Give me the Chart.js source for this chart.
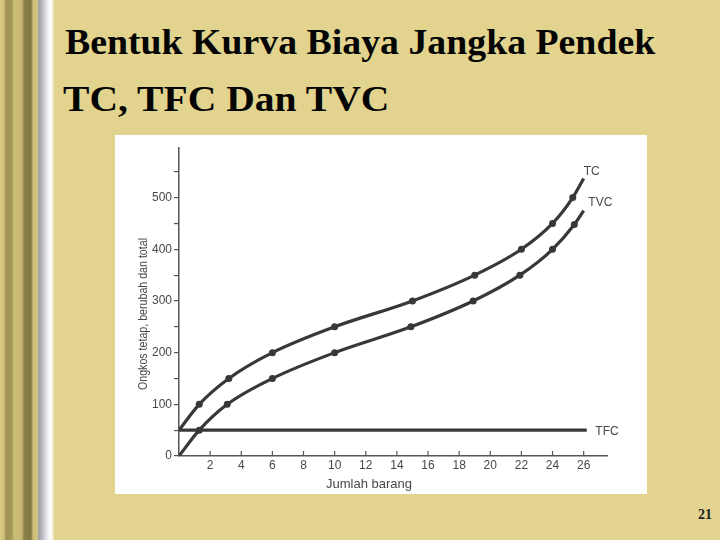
<!DOCTYPE html>
<html>
<head>
<meta charset="utf-8">
<script src="https://cdn.jsdelivr.net/npm/chart.js@4.4.1/dist/chart.umd.min.js"></script>
<style>
  body { margin: 0; width: 720px; height: 540px; background: #e2d48e; position: relative; overflow: hidden; }
  #border {
    position: absolute; left: 0; top: 0; width: 54px; height: 540px;
    background: linear-gradient(to right, #d9cb82 0px, #cfc078 4px, #9d9055 6px, #a89b5c 12px, #cdbf78 14px,
      #c4b570 22px, #8c8249 24px, #7f7643 31px, #cbbd76 33px, #d4c67c 37px, #9fa0a6 39px, #b9bac0 42px,
      #dfe0e5 46px, #ffffff 50px, #f4f0de 53px, #e2d48e 54px);
  }
  .title { position: absolute; margin: 0; font-family: "Liberation Serif", "Times New Roman", serif;
    font-weight: bold; font-size: 36px; color: #050505; white-space: nowrap; line-height: 1;
    transform-origin: left top; }
  #t1 { left: 65px; top: 24px; transform: scaleX(1.05); }
  #t2 { left: 63px; top: 81px; transform: scaleX(1.10); }
  #panel { position: absolute; left: 115px; top: 135px; width: 532px; height: 359px; background: #fff; }
  #page { position: absolute; left: 698px; top: 507px; font-family: "Liberation Serif", serif; font-weight: bold;
    font-size: 14px; color: #222; }
</style>
</head>
<body>
<div id="border"></div>
<div class="title" id="t1">Bentuk Kurva Biaya Jangka Pendek</div>
<div class="title" id="t2">TC, TFC Dan TVC</div>
<div id="panel"><canvas id="chart" width="532" height="359"></canvas></div>
<div id="page">21</div>
<script>
// data
const tcQty  = [0, 1.3, 3.2, 6, 10, 15, 19, 22, 24, 25.3, 26];
const tcCost = [50, 100, 150, 200, 250, 300, 350, 400, 450, 500, 537];

const tvcQty  = [0, 1.3, 3.1, 6, 10, 14.9, 18.9, 21.9, 24, 25.4, 26];
const tvcCost = [0, 50, 100, 150, 200, 250, 300, 350, 400, 448, 475];

const tfcQty  = [0, 26.2];
const tfcCost = [50, 50];

const xTicks = [2, 4, 6, 8, 10, 12, 14, 16, 18, 20, 22, 24, 26];
const yTicks = [0, 50, 100, 150, 200, 250, 300, 350, 400, 450, 500, 550];
const yLabels = [0, 100, 200, 300, 400, 500];

const ink = '#3a3836';
const textCol = '#474747';
const sans = '"Liberation Sans", Arial, sans-serif';

function pts(xs, ys) {
  return xs.map((x, i) => ({ x: x, y: ys[i] }));
}
function dots(n) {
  // tanpa titik di ujung kurva
  return Array.from({ length: n }, (_, i) => (i === 0 || i === n - 1) ? 0 : 3.5);
}

const labelsPlugin = {
  id: 'labels',
  afterDraw(chart) {
    const ctx = chart.ctx;
    const x = chart.scales.x, y = chart.scales.y;
    ctx.save();
    // tick sumbu x menghadap ke dalam
    ctx.strokeStyle = '#555';
    ctx.lineWidth = 1.2;
    xTicks.forEach(v => {
      const px = x.getPixelForValue(v);
      ctx.beginPath();
      ctx.moveTo(px, y.bottom);
      ctx.lineTo(px, y.bottom - 5);
      ctx.stroke();
    });
    // nama kurva
    ctx.fillStyle = textCol;
    ctx.font = '12px ' + sans;
    ctx.textBaseline = 'middle';
    ctx.textAlign = 'left';
    ctx.fillText('TC', x.getPixelForValue(26.0), y.getPixelForValue(550));
    ctx.fillText('TVC', x.getPixelForValue(26.3), y.getPixelForValue(490));
    ctx.fillText('TFC', x.getPixelForValue(26.75), y.getPixelForValue(48));
    // judul sumbu
    ctx.font = '13px ' + sans;
    ctx.textAlign = 'center';
    ctx.fillText('Jumlah barang', 254, 349);
    ctx.translate(28, 179);
    ctx.rotate(-Math.PI / 2);
    const yt = 'Ongkos tetap, berubah dan total';
    const w = ctx.measureText(yt).width;
    ctx.scale(152 / w, 1);
    ctx.fillText(yt, 0, 0);
    ctx.restore();
  }
};

new Chart(document.getElementById('chart'), {
  type: 'line',
  data: {
    datasets: [
      { label: 'TC', data: pts(tcQty, tcCost), borderColor: ink, backgroundColor: ink, borderWidth: 3.2,
        pointRadius: dots(tcQty.length), pointBackgroundColor: ink, pointBorderWidth: 0, cubicInterpolationMode: 'monotone' },
      { label: 'TVC', data: pts(tvcQty, tvcCost), borderColor: ink, backgroundColor: ink, borderWidth: 3.2,
        pointRadius: dots(tvcQty.length), pointBackgroundColor: ink, pointBorderWidth: 0, cubicInterpolationMode: 'monotone' },
      { label: 'TFC', data: pts(tfcQty, tfcCost), borderColor: ink, borderWidth: 3.2, pointRadius: 0 }
    ]
  },
  options: {
    responsive: false,
    animation: false,
    layout: { padding: { top: 13, right: 40, left: 0, bottom: 0 } },
    plugins: { legend: { display: false }, tooltip: { enabled: false } },
    scales: {
      x: {
        type: 'linear', min: 0, max: 27.5,
        afterBuildTicks: s => { s.ticks = xTicks.map(v => ({ value: v })); },
        afterFit: s => { s.height = 38; },
        grid: { drawOnChartArea: false, drawTicks: false },
        border: { color: '#555', width: 1.5 },
        ticks: { color: textCol, font: { size: 12, family: sans }, padding: 2, maxRotation: 0, autoSkip: false }
      },
      y: {
        min: 0, max: 596,
        afterBuildTicks: s => { s.ticks = yTicks.map(v => ({ value: v })); },
        afterFit: s => { s.width = 64; },
        grid: { drawOnChartArea: false, tickLength: 5, color: '#555', lineWidth: 1.2 },
        border: { color: '#555', width: 1.5 },
        ticks: { color: textCol, font: { size: 12, family: sans }, padding: 2, autoSkip: false,
          callback: v => yLabels.includes(v) ? String(v) : '' }
      }
    }
  },
  plugins: [labelsPlugin]
});
</script>
</body>
</html>
